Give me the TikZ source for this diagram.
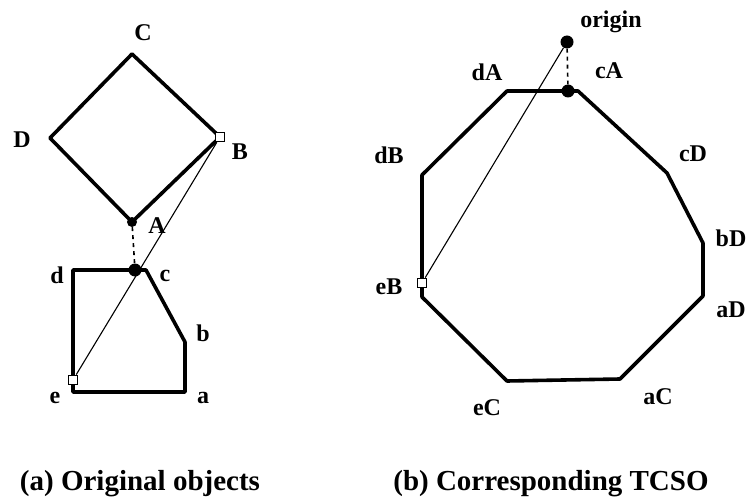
\documentclass[tikz,border=0pt]{standalone}
\usepackage{fontspec}
\setmainfont{Liberation Serif}
\usepackage{tikz}

\tikzset{
  outline/.style={line width=3.6pt, line join=round},
  ray/.style={line width=1.1pt},
  gapline/.style={line width=1.6pt, dash pattern=on 4pt off 4pt},
  contact/.style={circle, fill=black, inner sep=0pt, minimum size=13pt},
  corner/.style={rectangle, draw, fill=white, line width=1.8pt, inner sep=0pt, minimum size=9pt},
  lbl/.style={font=\fontsize{24}{24}\selectfont\bfseries, inner sep=0pt},
  caption/.style={font=\fontsize{29}{29}\selectfont\bfseries, inner sep=0pt}
}

\begin{document}
\begin{tikzpicture}[x=1pt,y=-1pt]
			\useasboundingbox (0,0) rectangle (747,500);
			% (a) original objects
			\coordinate (Cv) at (132,54);
			\coordinate (Dv) at (50,138);
			\coordinate (Av) at (132,222);
			\coordinate (Bv) at (220,137);
			\draw[outline](Cv)--(Dv)--(Av)--(Bv)--cycle;
			
			\coordinate (dv) at (73,270);
			\coordinate (cv) at (146,270);
			\coordinate (bv) at (185,342);
			\coordinate (av) at (185,392);
			\coordinate (ev) at (73,392);
			\draw[outline](dv)--(cv)--(bv)--(av)--(ev)--cycle;
			
			\node[contact,minimum size=10pt] (Adot) at (132,222) {};
			\node[contact] (cdot) at (135,270) {};
			\node[corner] (Bsq) at (220,137) {};
			\node[corner] (esq) at (73,380) {};
			\draw[gapline](Adot)--(cdot);
			\draw[ray](esq)--(Bsq);
			
			\node[lbl] (C) at (143,33) {C};
			\node[lbl] (D) at (22,140) {D};
			\node[lbl] (B) at (240,152) {B};
			\node[lbl] (A) at (157,226) {A};
			\node[lbl] (d) at (57,275) {d};
			\node[lbl] (c) at (165,276) {c};
			\node[lbl] (b) at (203,333) {b};
			\node[lbl] (a) at (203,398) {a};
			\node[lbl] (e) at (55,398) {e};
			
			% (b) corresponding TCSO
			\draw[outline](507,91)--(578,91)--(667,173)--(703,243)--(703,296)
			  --(620,379)--(507,381)--(422,297)--(422,175)--cycle;
			
			\node[contact] (origin) at (567,42) {};
			\node[contact] (cAdot) at (568,91) {};
			\node[corner] (eBsq) at (422,283) {};
			\draw[gapline](origin)--(cAdot);
			\draw[ray](origin)--(eBsq);
			
			\node[lbl] (originlbl) at (611,22) {origin};
			\node[lbl] (dA) at (487,72) {dA};
			\node[lbl] (cA) at (609,71) {cA};
			\node[lbl] (dB) at (389,155) {dB};
			\node[lbl] (cD) at (693,154) {cD};
			\node[lbl] (bD) at (731,238) {bD};
			\node[lbl] (aD) at (731,310) {aD};
			\node[lbl] (aC) at (658,397) {aC};
			\node[lbl] (eC) at (487,408) {eC};
			\node[lbl] (eB) at (389,287) {eB};
			
			\node[caption] (capa) at (140,484) {(a) Original objects};
			\node[caption] (capb) at (551,484) {(b) Corresponding TCSO};
			\end{tikzpicture}
\end{document}
